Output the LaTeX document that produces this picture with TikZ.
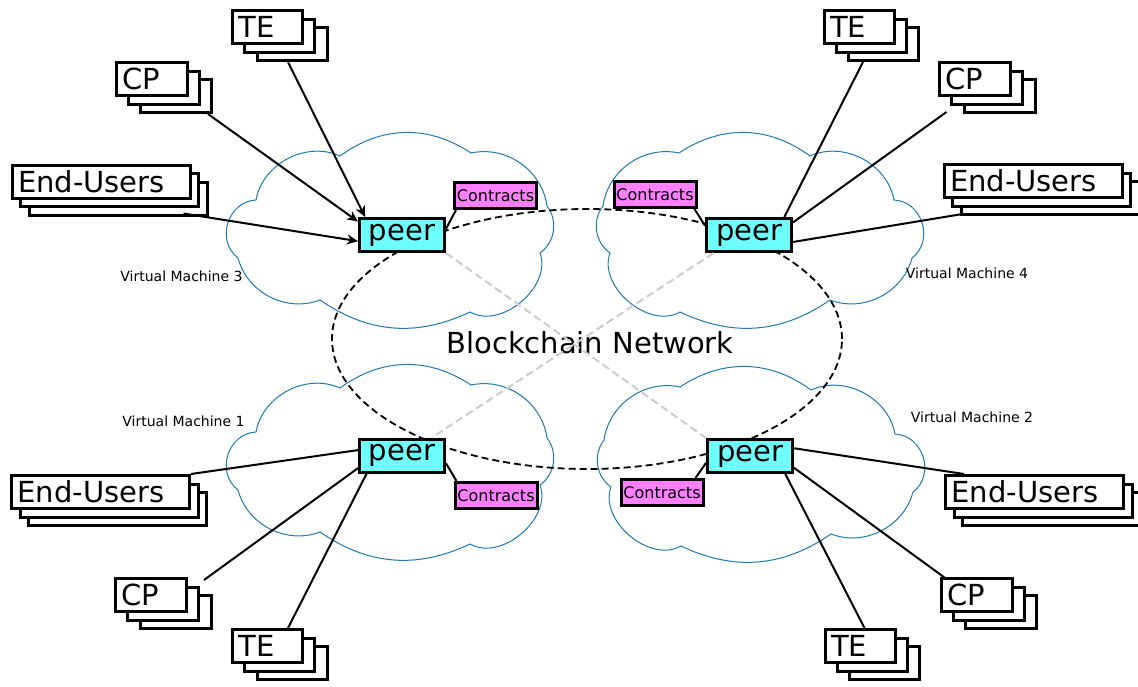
\documentclass[tikz,border=0pt]{standalone}
\usepackage{fontspec}
\setmainfont{DejaVu Sans}
\usetikzlibrary{arrows.meta,calc,shapes.geometric}
\definecolor{peercyan}{RGB}{112,255,255}
\definecolor{contractmag}{RGB}{255,128,255}
\definecolor{cloudblue}{RGB}{34,120,170}
\definecolor{meshgray}{RGB}{204,204,204}
\newcommand\bigfont{\fontsize{29}{32}\selectfont}
\newcommand\vmcloud[4]{%
  \begin{scope}[shift={(#1,#2)},xscale=#3]
    \draw[cloudline] (6,73) to[bend #4=47] (82,20) to[bend #4=35] (213,23)
      to[bend #4=52] (297,67) to[bend #4=70,looseness=1.2] (315,125)
      to[bend #4=48] (233,167) to[bend #4=30] (83,179)
      to[bend #4=70] (13,120) to[bend #4=46] (6,73);
  \end{scope}}
\newcommand\boxstack[6]{%
  \node[stackbox,text width=#5] (#1c) at ({#3+2*#6},{#4+17}) {};
  \node[stackbox,text width=#5] (#1b) at ({#3+#6},{#4+8.5}) {};
  \node[stackbox,text width=#5] (#1) at (#3,#4) {#2};
}
\begin{document}
\begin{tikzpicture}[x=1pt,y=-1pt,
  cloudline/.style={draw=cloudblue,line width=1pt},
  stackbox/.style={draw,line width=3pt,fill=white,minimum height=33pt,inner xsep=6pt,inner ysep=0pt,align=left,font=\bigfont},
  peerbox/.style={draw,line width=3pt,fill=peercyan,minimum width=85pt,minimum height=33pt,inner sep=0pt,font=\bigfont},
  contractbox/.style={draw,line width=3pt,fill=contractmag,minimum width=82pt,minimum height=26pt,inner sep=0pt,font=\fontsize{16}{18}\selectfont},
  vmlabel/.style={font=\fontsize{14}{16}\selectfont,inner sep=0pt},
  biglabel/.style={font=\bigfont,inner sep=0pt},
  chainellipse/.style={draw,ellipse,dash pattern=on 7pt off 4pt,line width=1.8pt,minimum width=510pt,minimum height=260pt,inner sep=0pt},
  meshline/.style={draw=meshgray,line width=2pt,dash pattern=on 8pt off 4pt},
  wire/.style={draw,line width=2pt},
  arrowwire/.style={wire,-{Stealth[length=11pt,width=10pt,inset=3.5pt]}}]
\useasboundingbox (0,0) rectangle (1138,686);
\clip (0,0) rectangle (1138,686);
% clouds
\vmcloud{597}{133}{1}{left}
\vmcloud{598}{367}{1}{left}
\vmcloud{553}{133}{-1}{left}
\vmcloud{553}{365}{-1}{left}
% blockchain
\node[chainellipse] (chain) at (587,339) {};
\node[biglabel] (chainlabel) at (590,343) {Blockchain Network};
% VM labels
\node[vmlabel] (vm3) at (181.5,276) {Virtual Machine 3};
\node[vmlabel] (vm4) at (967,273) {Virtual Machine 4};
\node[vmlabel] (vm1) at (183.5,421) {Virtual Machine 1};
\node[vmlabel] (vm2) at (972,417) {Virtual Machine 2};
% peers
\node[peerbox] (peer3) at (402,235) {peer};
\node[peerbox] (peer4) at (749,235) {peer};
\node[peerbox] (peer1) at (402,455.5) {peer};
\node[peerbox] (peer2) at (750,456) {peer};
% contracts
\node[contractbox] (c3) at (495.5,195.5) {Contracts};
\node[contractbox] (c4) at (655,194.5) {Contracts};
\node[contractbox] (c1) at (496,495.5) {Contracts};
\node[contractbox] (c2) at (662,492.5) {Contracts};
% stacks
\boxstack{tetl}{TE}{267.5}{27}{58pt}{12.25}
\boxstack{cptl}{CP}{151.5}{79}{59pt}{12.25}
\boxstack{eutl}{End-Users}{101}{181.5}{166pt}{8.5}
\boxstack{tetr}{TE}{859}{27}{58pt}{12.25}
\boxstack{cptr}{CP}{975}{79}{59pt}{12.25}
\boxstack{eutr}{End-Users}{1033}{181}{166pt}{8.5}
\boxstack{eubl}{End-Users}{100.5}{492}{166pt}{8.5}
\boxstack{cpbl}{CP}{151}{595}{59pt}{12.25}
\boxstack{tebl}{TE}{267.5}{646}{58pt}{12.25}
\boxstack{eubr}{End-Users}{1034.5}{492}{166pt}{8.5}
\boxstack{cpbr}{CP}{976.5}{595}{59pt}{12.25}
\boxstack{tebr}{TE}{860}{646}{58pt}{12.25}
% mesh lines
\draw[meshline] (peer3.south east) -- (peer2.north west);
\draw[meshline] (peer4.-153) -- (peer1.31);
% contract links
\draw[wire] ($(c3.south west)+(3,0)$) -- (peer3.8);
\draw[wire] ($(c4.south east)+(-3,0)$) -- (peer4.168);
\draw[wire] (peer1.-10) -- ($(c1.north west)+(3,0)$);
\draw[wire] ($(c2.north east)+(-9,0)$) -- (peer2.-171);
% top-left arrows
\draw[arrowwire] ($(tetlc.south)+(-4,0)$) -- (peer3.154);
\draw[arrowwire] ($(cptlc.south east)+(-5,0)$) -- (peer3.163);
\draw[arrowwire] ($(eutlc.south east)+(-25,-3)$) -- (peer3.-172);
% top-right
\draw[wire] ($(tetrc.south west)+(16,0)$) -- (peer4.27);
\draw[wire] ($(cptrc.south west)+(-16,-2)$) -- (peer4.16);
\draw[wire] ($(eutrc.south west)+(3,-2)$) -- (peer4.-9);
% bottom-left
\draw[wire] (eubl.north east) -- (peer1.173);
\draw[wire] ($(cpbl.north east)+(16,3)$) -- (peer1.-164);
\draw[wire] ($(tebl.north east)+(-16,0)$) -- (peer1.-153);
% bottom-right
\draw[wire] (peer2.10) -- ($(eubr.north west)+(20,0)$);
\draw[wire] (peer2.-15) -- ($(cpbr.north west)+(7,2)$);
\draw[wire] (peer2.-27) -- ($(tebr.north west)+(41,0)$);
\end{tikzpicture}
\end{document}
